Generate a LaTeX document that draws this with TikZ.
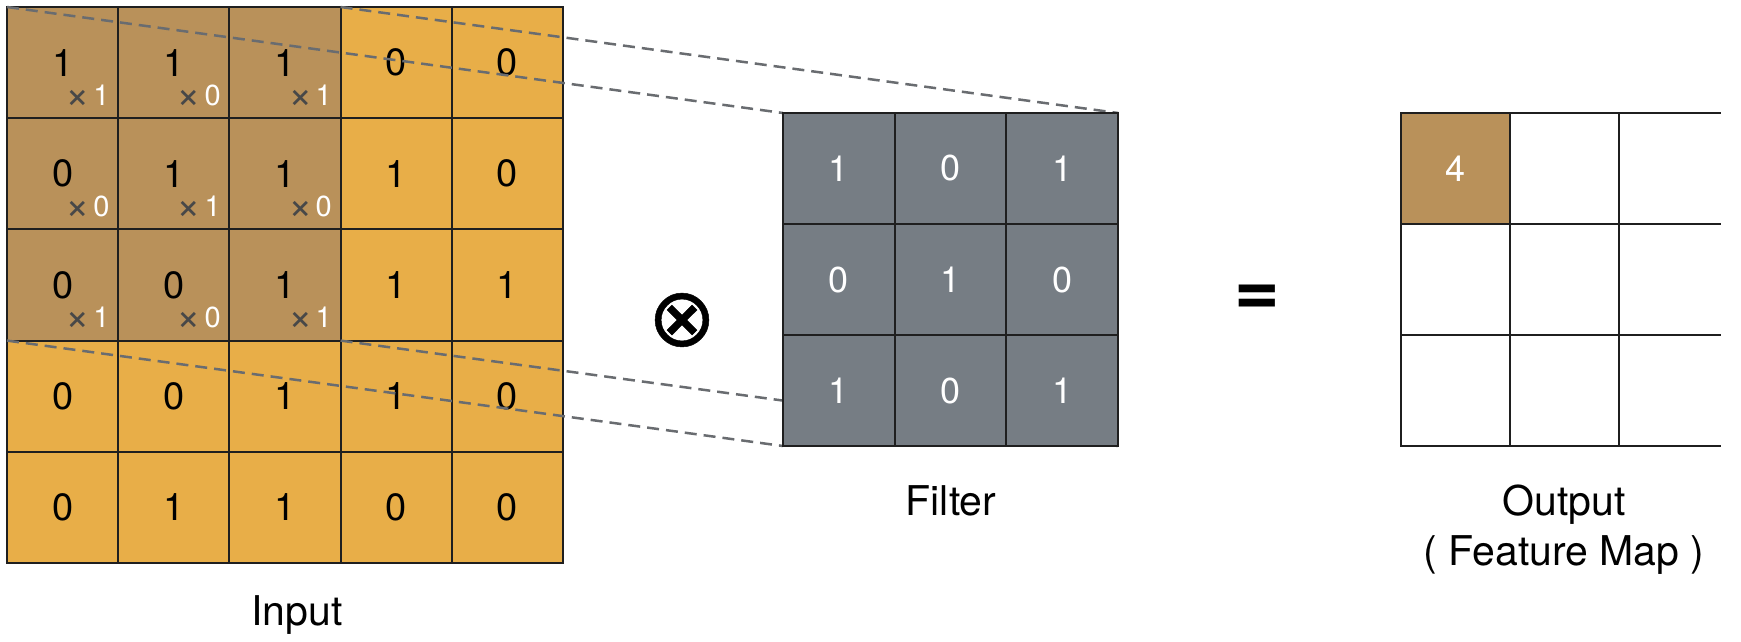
\documentclass[tikz,border=0pt]{standalone}
\usepackage{fontspec}
\setmainfont{TeX Gyre Heros}
\newfontfamily\symfont{DejaVu Sans}[FakeBold=0.6]
\definecolor{inorange}{RGB}{232,174,72}
\definecolor{inbrown}{RGB}{185,145,90}
\definecolor{fgray}{RGB}{118,125,132}
\definecolor{dashgray}{RGB}{105,108,112}
\definecolor{xgray}{RGB}{72,72,72}
\newcommand{\bignum}{\fontsize{38}{40}\selectfont}
\newcommand{\midnum}{\fontsize{36}{38}\selectfont}
\newcommand{\smallnum}{\fontsize{29}{30}\selectfont}
\newcommand{\labelfont}{\fontsize{41}{50}\selectfont}
\newcommand{\timesmark}{{\fontsize{42}{42}\selectfont\raisebox{-3pt}{\textcolor{xgray}{×}}}}
\begin{document}
\begin{tikzpicture}[x=1pt,y=-1pt,
  gridcell/.style={draw=black!88, line width=2pt, outer sep=0pt, inner sep=0pt},
  incell/.style={gridcell, minimum width=111.2pt, minimum height=111.2pt, font=\bignum},
  fcell/.style={gridcell, fill=fgray, minimum width=111.7pt, minimum height=111pt, font=\midnum, text=white},
  ocell/.style={gridcell, minimum width=109pt, minimum height=111pt, font=\midnum, text=white},
  oedge/.style={outer sep=0pt, inner sep=0pt, minimum width=102pt, minimum height=111pt},
  gridline/.style={draw=black!88, line width=2pt},
  wlabel/.style={inner sep=0pt, font=\smallnum, text=white},
  window/.style={draw=dashgray, line width=2.5pt, dash pattern=on 12pt off 7pt},
  caption/.style={inner sep=0pt, anchor=base, font=\labelfont, text=black}
]
\useasboundingbox (0,0) rectangle (1741,641);

% Input grid
\foreach \r/\vals in {1/{1,1,1,0,0},2/{0,1,1,1,0},3/{0,0,1,1,1},4/{0,0,1,1,0},5/{0,1,1,0,0}}{
  \foreach \v [count=\c] in \vals {
    \pgfmathtruncatemacro\hl{and(\r<4,\c<4)}
    \ifnum\hl=1 \def\fc{inbrown}\else\def\fc{inorange}\fi
    \node[incell, fill=\fc] (in-\r-\c) at ({7+111.2*(\c-0.5)},{7+111.2*(\r-0.5)}) {\v};
  }
}
% weights inside the window
\foreach \r/\vals in {1/{1,0,1},2/{0,1,0},3/{1,0,1}}{
  \foreach \w [count=\c] in \vals {
    \node[wlabel] (w-\r-\c) at ([shift={(25,34)}]in-\r-\c.center) {\timesmark\hspace{3pt}\w};
  }
}

% Filter grid (positions)
\foreach \r/\vals in {1/{1,0,1},2/{0,1,0},3/{1,0,1}}{
  \foreach \v [count=\c] in \vals {
    \coordinate (fpos-\r-\c) at ({783+111.7*(\c-0.5)},{113+111*(\r-0.5)});
  }
}
% dashed window lines (under the filter)
\path (fpos-1-1) ++(-55.85,-55.5) coordinate (f-nw);
\path (fpos-1-3) ++(55.85,-55.5) coordinate (f-ne);
\path (fpos-3-1) ++(-55.85,55.5) coordinate (f-sw);
\path (fpos-3-3) ++(55.85,55.5) coordinate (f-se);
\draw[window] (in-1-1.north west) -- (f-nw);
\draw[window] (in-1-3.north east) -- (f-ne);
\draw[window] (in-3-1.south west) -- (f-sw);
\draw[window] (in-3-3.south east) -- (f-se);

\foreach \r/\vals in {1/{1,0,1},2/{0,1,0},3/{1,0,1}}{
  \foreach \v [count=\c] in \vals {
    \node[fcell] (f-\r-\c) at (fpos-\r-\c) {\v};
  }
}

% Output grid
\node[ocell, fill=inbrown] (o-1-1) at ({1401+54.5},{113+55.5}) {4};
\foreach \r in {1,2,3}{
  \foreach \c in {1,2}{
    \ifnum\r\c=11 \else
    \node[ocell] (o-\r-\c) at ({1401+109*(\c-0.5)},{113+111*(\r-0.5)}) {};
    \fi
  }
  \node[oedge] (o-\r-3) at ({1619+51},{113+111*(\r-0.5)}) {};
  \draw[gridline] (o-\r-3.north west) -- (o-\r-3.north east);
}
\draw[gridline] (o-3-3.south west) -- (o-3-3.south east);

% operators
\node[inner sep=0pt, font=\symfont\fontsize{82}{82}\selectfont] (otimes) at (682,320) {⊗};
\node[inner sep=0pt, font=\bfseries\fontsize{78}{78}\selectfont] (equals) at (1257,300) {=};

% captions
\node[caption] (inputlabel) at (297,625) {Input};
\node[caption] (filterlabel) at (951,515) {Filter};
\node[caption] (outputlabel) at (1564,515) {Output};
\node[caption] (outputlabel2) at (1564,565) {( Feature Map )};
\end{tikzpicture}
\end{document}
